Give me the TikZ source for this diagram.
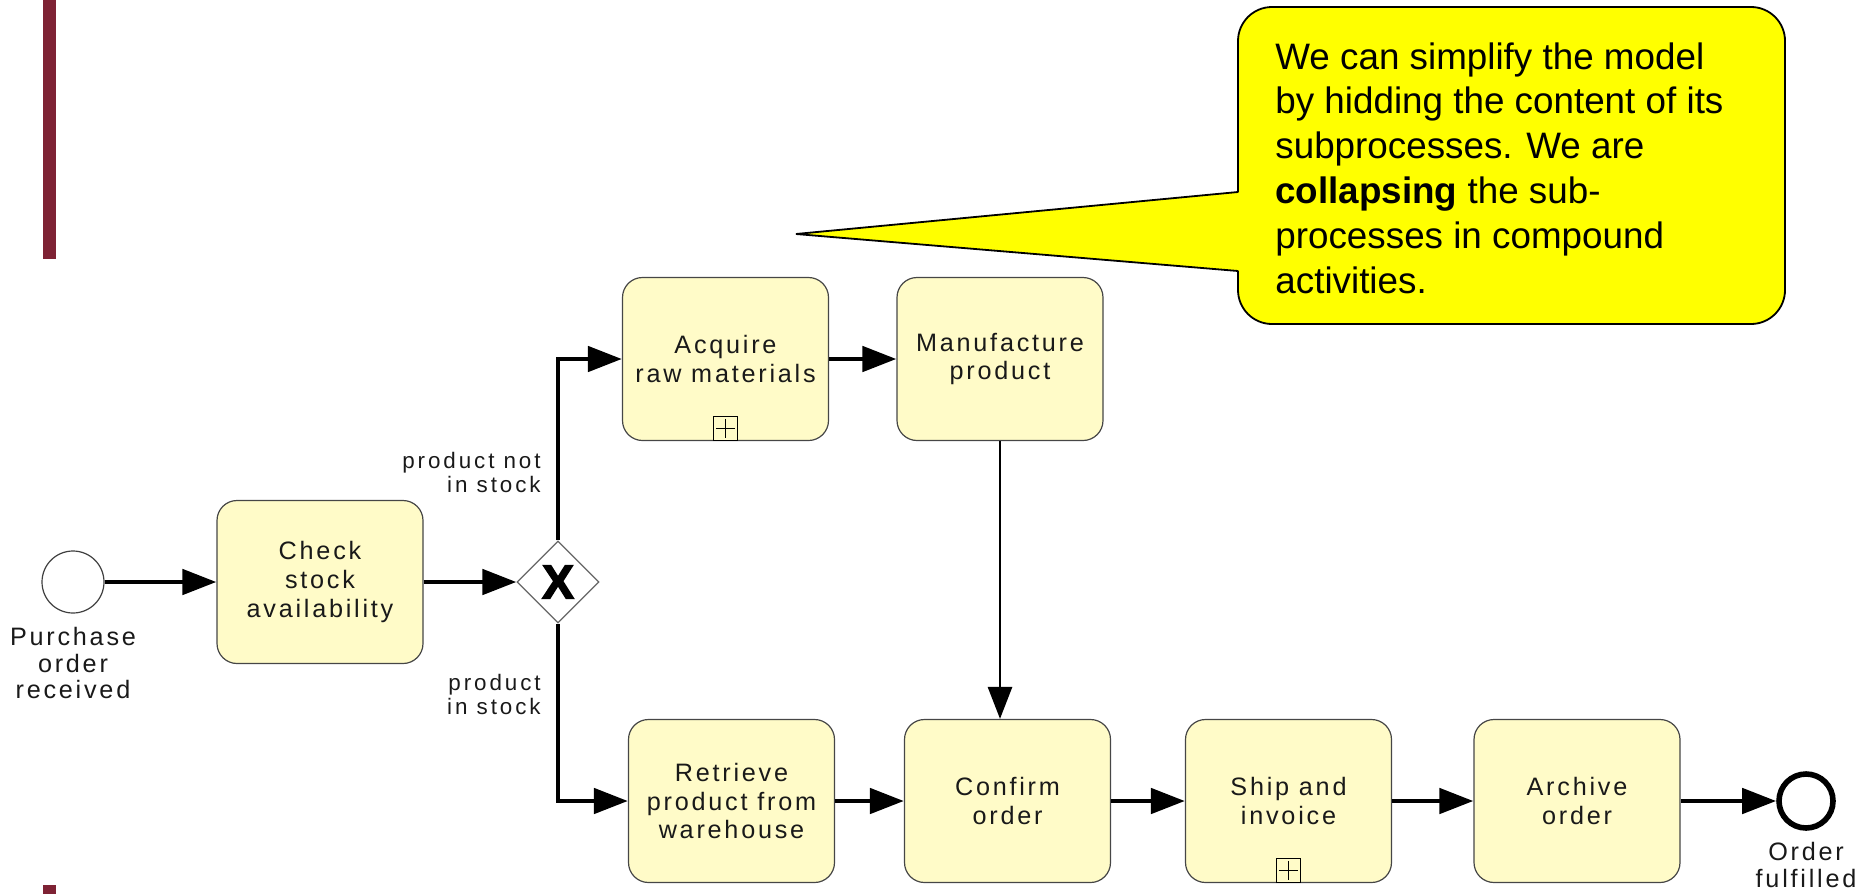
\documentclass[tikz,border=0pt]{standalone}
\usepackage{fontspec}
\setmainfont{Liberation Sans}
\newfontfamily\bpmnfont[LetterSpace=11]{Liberation Sans}
\newfontfamily\lblfont[LetterSpace=13]{Liberation Sans}
\newfontfamily\xfont[BoldFeatures={FakeBold=3}]{Liberation Sans}
\usetikzlibrary{arrows.meta,shapes.geometric}
\definecolor{taskfill}{RGB}{255,251,200}
\definecolor{taskdraw}{RGB}{70,70,70}
\definecolor{barcol}{RGB}{126,34,52}
\definecolor{callyellow}{RGB}{255,255,0}
\begin{document}
\begin{tikzpicture}[x=0.5pt,y=-0.5pt,
  task/.style={draw=taskdraw, line width=0.6pt, fill=taskfill, rounded corners=10pt,
    minimum width=103pt, minimum height=81.5pt, align=center, inner sep=0pt,
    font=\bpmnfont\fontsize{12.6}{14.3}\selectfont, text=black!90},
  flow/.style={line width=2.4pt, -{Triangle[length=17pt,width=12.5pt]}},
  thinflow/.style={line width=1.4pt, -{Triangle[length=16pt,width=12pt]}},
  lbl/.style={inner sep=0pt, font=\lblfont\fontsize{11.2}{12}\selectfont, text=black!90},
  evlbl/.style={inner sep=0pt, align=center, font=\bpmnfont\fontsize{12.6}{13.2}\selectfont, text=black!90},
  marker/.style={draw=black, line width=0.6pt, fill=taskfill, minimum size=12pt, inner sep=0pt, anchor=south}
]
\useasboundingbox (0,0) rectangle (1862,894);
% maroon bars
\fill[barcol] (43,0) rectangle (56,259);
\fill[barcol] (43,885) rectangle (56,894);

% callout
\node[draw=black, line width=0.9pt, fill=callyellow, rounded corners=17pt,
  minimum width=273.5pt, minimum height=158.5pt, anchor=north west, outer sep=0pt, inner sep=0pt]
  (callout) at (1238,7) {};
\coordinate (ctip) at (796,234);
\coordinate (ctop) at (1238,192);
\coordinate (cbot) at (1238,271);
\fill[callyellow] ([xshift=2pt]ctop) -- (ctip) -- ([xshift=2pt]cbot) -- cycle;
\draw[line width=0.9pt, line join=miter] (ctop) -- (ctip) -- (cbot);
\node[anchor=north west, align=left, inner sep=0pt, font=\fontsize{18.4}{22.4}\selectfont]
  (ctext) at (1275,42) {We can simplify the model\\by hidding the content of its\\subprocesses. We are\\\textbf{collapsing} the sub-\\processes in compound\\activities.};

% events
\node[circle, draw=black!75, line width=0.6pt, fill=white, minimum size=31pt, inner sep=0pt] (start) at (73,582) {};
\node[evlbl, anchor=north] (startlbl) at (73,627) {Purchase\\order\\received};
\node[circle, draw=black, line width=2.8pt, fill=white, minimum size=27pt, inner sep=0pt] (end) at (1806,801) {};
\node[evlbl, anchor=north] (endlbl) at (1806,842) {Order\\fulfilled};

% tasks
\node[task] (check) at (320,582) {Check\\stock\\availability};
\node[task] (acquire) at (725.5,359) {Acquire\\raw materials};
\node[task] (manuf) at (1000,359) {Manufacture\\product};
\node[task] (retrieve) at (731.5,801) {Retrieve\\product from\\warehouse};
\node[task] (confirm) at (1007.5,801) {Confirm\\order};
\node[task] (ship) at (1288.5,801) {Ship and\\invoice};
\node[task] (archive) at (1577,801) {Archive\\order};

% collapsed markers
\node[marker] (m1) at (acquire.south) {};
\draw[line width=0.6pt] ([yshift=-1.5pt]m1.north) -- ([yshift=1.5pt]m1.south);
\draw[line width=0.6pt] ([xshift=1.5pt]m1.west) -- ([xshift=-1.5pt]m1.east);
\node[marker] (m2) at (ship.south) {};
\draw[line width=0.6pt] ([yshift=-1.5pt]m2.north) -- ([yshift=1.5pt]m2.south);
\draw[line width=0.6pt] ([xshift=1.5pt]m2.west) -- ([xshift=-1.5pt]m2.east);

% gateway
\node[diamond, draw=black!60, line width=0.6pt, fill=white, minimum width=41pt, minimum height=41pt, inner sep=0pt] (gw) at (558,582) {};
\node[inner sep=0pt, font=\xfont\bfseries\fontsize{24}{24}\selectfont] (gwx) at (gw) {X};

% labels
\node[lbl, anchor=north east, align=right] (lnot) at (541,452) {product not\\in stock};
\node[lbl, anchor=north east, align=right] (lin) at (541,674) {product\\in stock};

% flows
\draw[flow] (start.east) -- (check.west);
\draw[flow] (check.east) -- (gw.west);
\draw[flow] (gw.north) |- (acquire.west);
\draw[flow] (gw.south) |- (retrieve.west);
\draw[flow] (acquire.east) -- (manuf.west);
\draw[thinflow] (manuf.south) -- (manuf.south |- confirm.north);
\draw[flow] (retrieve.east) -- (confirm.west);
\draw[flow] (confirm.east) -- (ship.west);
\draw[flow] (ship.east) -- (archive.west);
\draw[flow] (archive.east) -- (end.west);
\end{tikzpicture}
\end{document}
